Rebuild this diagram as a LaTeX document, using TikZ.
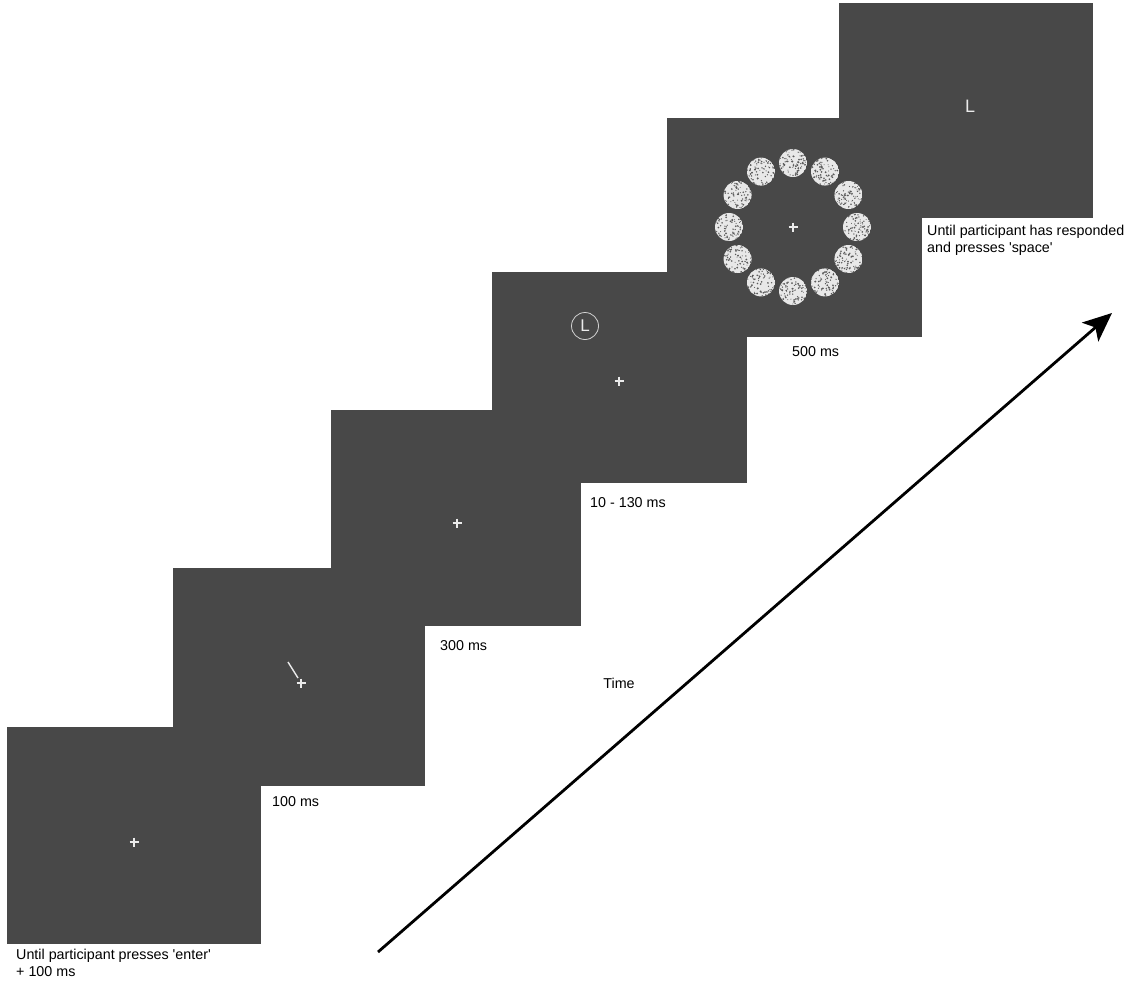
\documentclass[tikz,border=0pt]{standalone}
\usepackage{fontspec}
\setmainfont{Liberation Sans}
\usetikzlibrary{arrows.meta,calc}
\definecolor{scr}{RGB}{72,72,72}
\definecolor{speck}{RGB}{232,232,232}
\definecolor{fixc}{RGB}{235,235,235}
\begin{document}
\begin{tikzpicture}[x=1pt,y=-1pt,
  screen/.style={fill=scr,draw=none,inner sep=0pt,rectangle},
  fix/.style={draw=fixc,line width=1.1pt},
  lbl/.style={anchor=west,inner sep=0pt,font=\fontsize{14.3}{16.5}\selectfont,text=black},
  lbl2/.style={anchor=north west,inner sep=0pt,align=left,font=\fontsize{14.3}{16.5}\selectfont,text=black},
  letter/.style={text=fixc,inner sep=0pt},
  timearrow/.style={draw=black,line width=2.8pt,-{Stealth[length=29pt,width=25pt,inset=7pt]}}]
\useasboundingbox (0,0) rectangle (1132,983);
% screens
\node[screen,minimum width=254pt,minimum height=217pt] (s1) at (134,835.5) {};
\node[screen,minimum width=252pt,minimum height=218pt] (s2) at (299,677) {};
\node[screen,minimum width=250pt,minimum height=216pt] (s3) at (456,518) {};
\node[screen,minimum width=255pt,minimum height=211pt] (s4) at (619.5,377.5) {};
\node[screen,minimum width=255pt,minimum height=219pt] (s5) at (794.5,227.5) {};
\node[screen,minimum width=254pt,minimum height=215pt] (s6) at (966,110.5) {};
% fixation crosses
\coordinate (f1) at (134,842);
\coordinate (f2) at (301,683);
\coordinate (f3) at (457,523);
\coordinate (f4) at (619,381);
\coordinate (f5) at (793,227);
\foreach \f in {f1,f2,f3,f4,f5}{
  \draw[fix] (\f) ++(-4.5,0) -- ++(9,0) (\f) ++(0,-4.5) -- ++(0,9);
}
% orientation line (screen 2)
\coordinate (o1) at (288,662);
\coordinate (o2) at (298,678);
\draw[draw=fixc,line width=1.4pt] (o1) -- (o2);
% cue circle L (screen 4)
\node[circle,draw=fixc!85!scr,line width=0.8pt,minimum size=27pt,inner sep=0pt,
  text=fixc,font=\fontsize{17}{17}\selectfont] (cue) at (585,326) {L};
% probe L (screen 6)
\node[letter,font=\fontsize{18}{18}\selectfont] (probe) at (970,106) {L};
% noise disks (screen 5)
\pgfmathsetseed{7}
\foreach \k in {0,...,11}{
  \coordinate (d\k) at ($(f5)+(\k*30:64)$);
  \begin{scope}
    \clip (d\k) circle (14pt);
    \fill[speck] (d\k) circle (14pt);
    \foreach \j in {1,...,80}{
      \pgfmathsetmacro\ra{rnd*360}
      \pgfmathsetmacro\rr{sqrt(rnd)*14.5}
      \pgfmathsetmacro\rs{0.45+0.55*rnd}
      \fill[scr!90!white] ($(d\k)+(\ra:\rr)$) circle (\rs pt);
    }
  \end{scope}
}
% labels
\node[lbl2] (t1) at (16,949) {Until participant presses \textquotesingle enter\textquotesingle\\+ 100 ms};
\node[lbl] (t2) at (272,802) {100 ms};
\node[lbl] (t3) at (440,646) {300 ms};
\node[lbl] (t4) at (590,503) {10 - 130 ms};
\node[lbl] (t5) at (792,352) {500 ms};
\node[lbl2] (t6) at (927,225) {Until participant has responded\\and presses \textquotesingle space\textquotesingle};
\node[lbl,anchor=center] (time) at (619,683) {Time};
% time arrow
\coordinate (ta) at (378,952);
\coordinate (tb) at (1112,313);
\draw[timearrow] (ta) -- (tb);
\end{tikzpicture}
\end{document}
